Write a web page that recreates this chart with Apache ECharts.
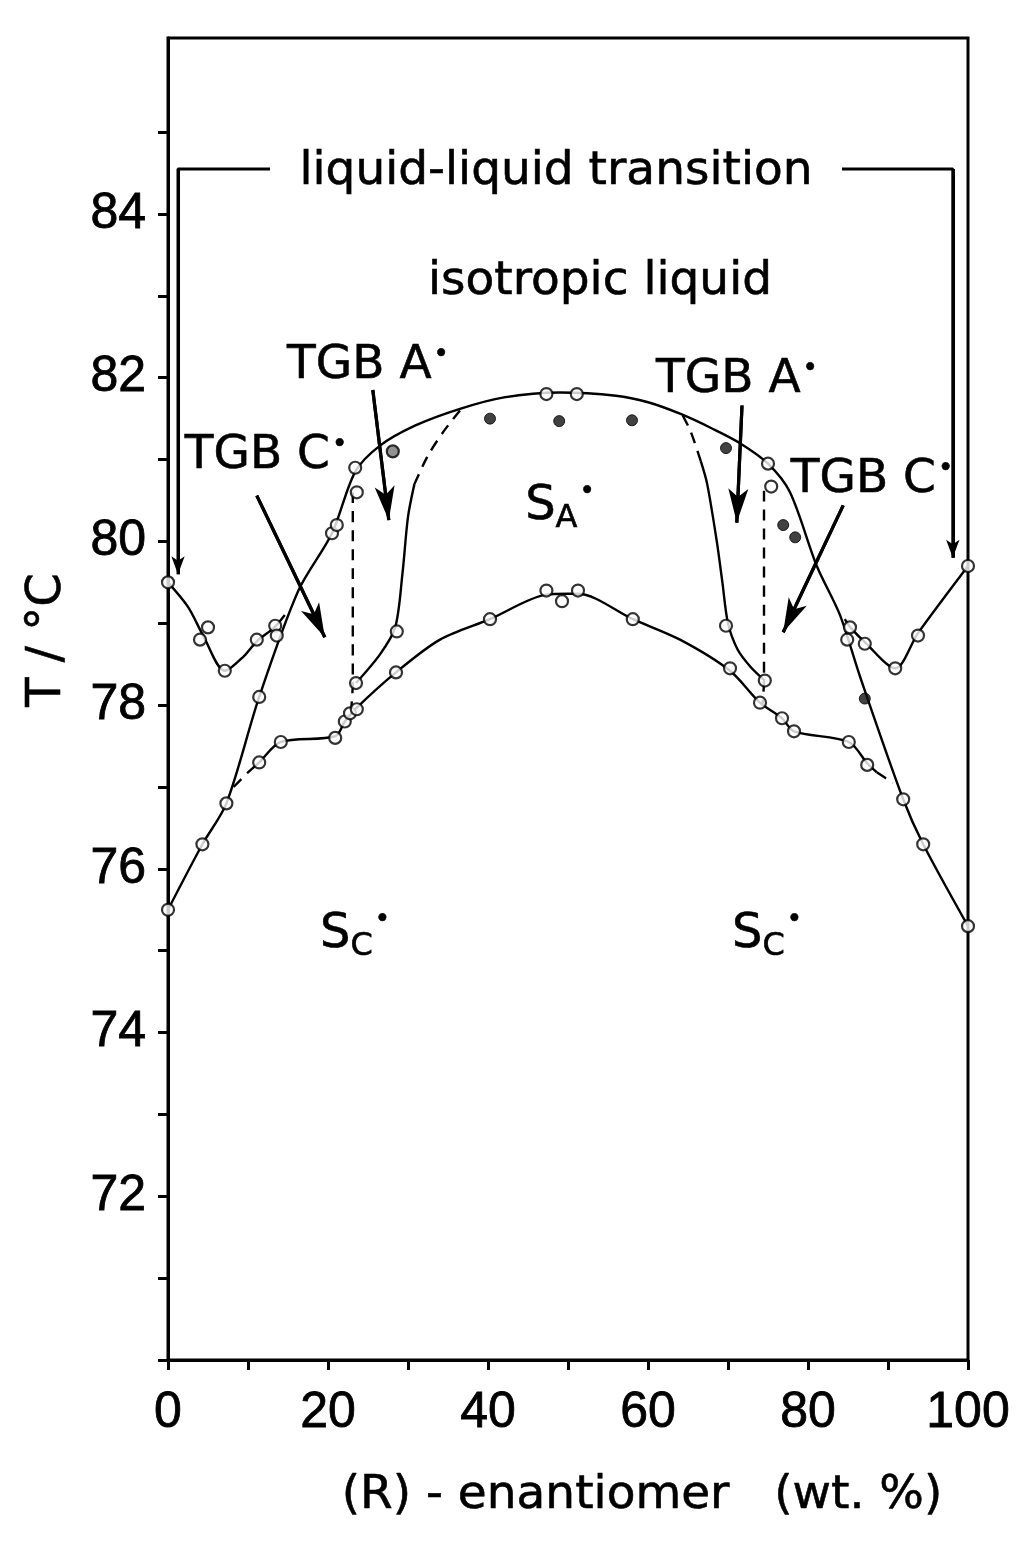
<!DOCTYPE html>
<html><head><meta charset="utf-8">
<script src="https://cdn.jsdelivr.net/npm/echarts@6/dist/echarts.min.js"></script>
<style>html,body{margin:0;padding:0;background:#fff}#c{width:1024px;height:1567px}</style>
</head><body><div id="c"></div><script>
// ---- ticks and tick labels ----
const xTickLabels = [0, 20, 40, 60, 80, 100];
const xTicks = [0, 10, 20, 30, 40, 50, 60, 70, 80, 90, 100];
const yTickLabels = [72, 74, 76, 78, 80, 82, 84];
const yTicks = [70, 71, 72, 73, 74, 75, 76, 77, 78, 79, 80, 81, 82, 83, 84, 85];

// ---- phase boundaries (x = wt.% (R), y = T/°C) ----
const upperCurve = [[0,75.5],[4.3,76.3],[7.3,76.8],[11.4,78.1],[16.3,79.4],[20.5,80.1],[23.4,80.85],[26.5,81.17],[31,81.42],[36.5,81.62],[42,81.76],[49,81.82],[56,81.78],[60,81.7],[64,81.56],[68,81.38],[71.5,81.2],[75,80.95],[77.75,80.6],[81.1,79.7],[84,79.1],[86.5,78.35],[91.9,76.85],[94.4,76.3],[100,75.3]];
const liquidLeft = [[0,79.5],[2.5,79.2],[4.4,78.85],[7.1,78.42],[9.5,78.6],[11.1,78.78],[13.3,78.95],[14.6,79.1]];
const liquidRight = [[84.6,79.05],[85.3,78.95],[87.1,78.77],[90.9,78.45],[93.75,78.88],[100,79.7]];
const lowerCurve = [[9.9,77.17],[11.4,77.3],[14.1,77.55],[20.9,77.62],[22.1,77.8],[23.6,77.97],[28.5,78.4],[34,78.8],[40.25,79.05],[47.3,79.35],[50,79.36],[51.25,79.36],[58.1,79.05],[64,78.8],[70.25,78.42],[74,78.03],[76.75,77.84],[78.25,77.68],[85.1,77.55],[87.4,77.29],[88.6,77.18]];
const lowerDashLeft = [[8.2,77.0],[9.9,77.17]];
const lowerDashRight = [[88.6,77.18],[90.6,77.05]];
const tgbALeft = [[23.5,78.27],[26.5,78.62],[28.4,78.95],[29.3,79.6],[30.0,80.3],[30.8,80.7]];
const tgbALeftDash = [[30.8,80.7],[32.5,81.05],[34.5,81.35],[36.5,81.6]];
const tgbARight = [[74.6,78.3],[72.8,78.47],[71.2,78.68],[70.0,79.0],[69.3,79.5],[68.6,80.0],[67.4,80.7],[66.6,80.98]];
const tgbARightDash = [[66.6,80.98],[65.3,81.35],[64,81.6]];
const vDashLeft = [[23.1,80.6],[23.1,78.27],[22.9,77.95]];
const vDashRight = [[74.5,80.62],[74.5,78.3],[74.3,78.0]];

// ---- measured points ----
const openPoints = [[0,75.5],[4.3,76.3],[7.3,76.8],[11.4,78.1],
 [0,79.5],[4,78.8],[5,78.95],[7.1,78.42],[11.1,78.8],[13.4,78.97],[13.6,78.85],
 [20.5,80.1],[21.1,80.2],[23.4,80.9],[23.6,80.6],
 [47.3,81.8],[51.1,81.8],[75,80.95],[75.4,80.67],
 [91.9,76.85],[94.4,76.3],[100,75.3],
 [100,79.7],[93.75,78.85],[90.9,78.45],[87.1,78.75],[85.25,78.95],[84.9,78.8],
 [11.4,77.3],[14.1,77.55],[20.9,77.6],[22.1,77.8],[22.75,77.9],[23.6,77.95],[28.5,78.4],[40.25,79.05],[47.3,79.4],[49.25,79.27],[51.25,79.4],[58.1,79.05],[70.25,78.45],[74,78.03],[76.75,77.84],[78.25,77.68],[85.1,77.55],[87.4,77.27],
 [23.5,78.27],[28.6,78.9],[69.75,78.97],[74.6,78.3]];
const filledPoints = [[40.25,81.5],[48.9,81.47],[58,81.48],[69.75,81.14],[76.9,80.2],[78.4,80.05],[87.1,78.08]];
const dottedPoints = [[28.1,81.1]];

// ---- annotation arrows (data coordinates) ----
const bracketArrows = [
  [[12.75,84.55],[1.25,84.55],[1.25,79.6]],
  [[84.25,84.55],[98.1,84.55],[98.1,79.8]]
];
const pointerArrows = [
  [[11.1,80.56],[19.6,78.83]],
  [[25.6,81.85],[27.6,80.26]],
  [[71.75,81.66],[71.1,80.23]],
  [[84.4,80.44],[76.9,78.89]]
];

const FONT = '"DejaVu Sans", sans-serif';
const NUMFONT = '"Liberation Sans", Arial, sans-serif';
const chart = echarts.init(document.getElementById('c'));

function curve(data, dashed, w) {
  return { type: 'line', data: data, showSymbol: false, symbol: 'none', smooth: 0.3,
    lineStyle: { color: '#000', width: w || 2.4, type: dashed ? [11, 8] : 'solid' },
    silent: true, z: 2, animation: false };
}
function arrow(path, headSize, w) {
  const n = path.length;
  return { type: 'line', data: path, showSymbol: false, symbol: 'none', silent: true, z: 3,
    lineStyle: { color: '#000', width: w },
    markLine: { silent: true, animation: false, symbol: ['none', 'arrow'], symbolSize: headSize,
      label: { show: false }, lineStyle: { color: '#000', width: w, type: 'solid' },
      data: [[{ coord: path[n - 2] }, { coord: path[n - 1] }]] } };
}
const sup = { fontSize: 26, fontFamily: FONT, verticalAlign: 'top', padding: [0, 0, 0, 2] };
const sub = { fontSize: 32, fontFamily: FONT, verticalAlign: 'bottom', padding: [24, 0, 0, 0] };
function label(text, x, y, size) {
  return { type: 'text', x: x, y: y, z: 10,
    style: { text: text, fill: '#000', font: (size || 47) + 'px ' + FONT,
      stroke: '#000', lineWidth: 0.6,
      textAlign: 'center', textVerticalAlign: 'middle',
      rich: { d: sup, s: sub } } };
}

chart.setOption({
  animation: false,
  backgroundColor: '#fff',
  grid: { left: 168, right: 56, top: 38, bottom: 207, show: true, borderColor: '#000', borderWidth: 3, outerBoundsMode: 'none' },
  xAxis: { type: 'value', min: 0, max: 100, interval: 10,
    name: '(R) - enantiomer   (wt. %)', nameLocation: 'middle', nameGap: 112,
    nameTextStyle: { fontSize: 47, fontFamily: FONT, color: '#000', padding: [0, 0, 0, 148],
      textBorderColor: '#000', textBorderWidth: 0.6 },
    axisLine: { lineStyle: { color: '#000', width: 3 } },
    axisTick: { length: 10, customValues: xTicks, lineStyle: { color: '#000', width: 3 } },
    axisLabel: { fontSize: 50, fontFamily: NUMFONT, color: '#000', margin: 28,
      customValues: xTickLabels,
      textBorderColor: '#000', textBorderWidth: 0.8,
      formatter: v => String(v) },
    splitLine: { show: false } },
  yAxis: { type: 'value', min: 70, max: 86.15, interval: 1,
    name: 'T / °C', nameLocation: 'middle', nameGap: 96,
    nameTextStyle: { fontSize: 48, fontFamily: FONT, color: '#000', padding: [0, 0, 0, 118],
      textBorderColor: '#000', textBorderWidth: 0.6 },
    axisLine: { lineStyle: { color: '#000', width: 3 } },
    axisTick: { length: 10, customValues: yTicks, lineStyle: { color: '#000', width: 3 } },
    axisLabel: { fontSize: 50, fontFamily: NUMFONT, color: '#000', margin: 22,
      customValues: yTickLabels,
      textBorderColor: '#000', textBorderWidth: 0.8,
      formatter: v => String(v) },
    splitLine: { show: false } },
  series: [
    curve(upperCurve), curve(liquidLeft), curve(liquidRight), curve(lowerCurve),
    curve(lowerDashLeft, true), curve(lowerDashRight, true),
    curve(tgbALeft), curve(tgbALeftDash, true), curve(tgbARight), curve(tgbARightDash, true),
    curve(vDashLeft, true), curve(vDashRight, true),
    ...bracketArrows.map(p => arrow(p, [10, 18], 3)),
    ...pointerArrows.map(p => arrow(p, [15, 34], 3.2)),
    { type: 'scatter', data: openPoints, symbol: 'circle', symbolSize: 12, z: 5, silent: true,
      itemStyle: { color: '#fff', borderColor: '#000', borderWidth: 2.2 } },
    { type: 'scatter', data: filledPoints, symbol: 'circle', symbolSize: 11, z: 5, silent: true,
      itemStyle: { color: '#111', borderColor: '#000', borderWidth: 1 } },
    { type: 'scatter', data: dottedPoints, symbol: 'circle', symbolSize: 12, z: 5, silent: true,
      itemStyle: { color: '#777', borderColor: '#000', borderWidth: 2.2 } }
  ],
  graphic: [
    label('liquid-liquid transition', 556, 172),
    label('isotropic liquid', 600, 282),
    label('TGB A{d|•}', 368, 366),
    label('TGB A{d|•}', 737, 380),
    label('TGB C{d|•}', 266, 456),
    label('TGB C{d|•}', 872, 480),
    label('S{s|A}{d|•}', 560, 507, 48),
    label('S{s|C}{d|•}', 355, 935, 48),
    label('S{s|C}{d|•}', 767, 935, 48)
  ]
});
</script></body></html>
